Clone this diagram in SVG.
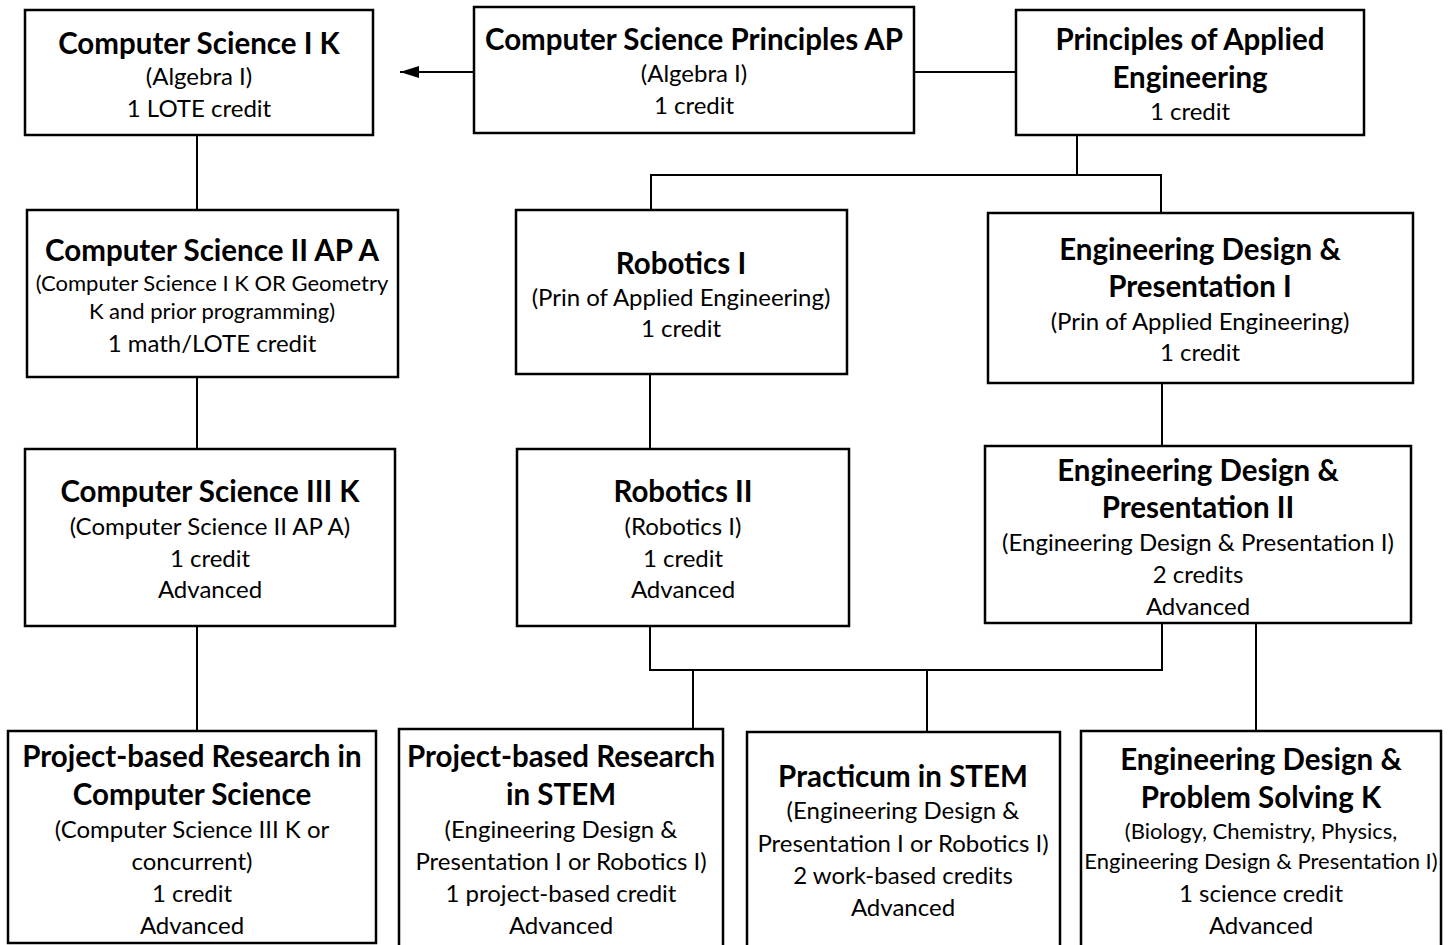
<svg xmlns="http://www.w3.org/2000/svg" width="1451" height="945" viewBox="0 0 1451 945">
<style>
.box{fill:#fff;stroke:#000;stroke-width:2.5}
.c{fill:none;stroke:#000;stroke-width:2}
text{font-family:Lato,"Open Sans","Liberation Sans",sans-serif;text-anchor:middle;fill:#000}
.t{font-size:29.5px;font-weight:bold}
.r{font-size:24px}
.s{font-size:22px}
</style>
<defs>
<marker id="ah" markerWidth="20" markerHeight="12" refX="19" refY="6" orient="auto" markerUnits="userSpaceOnUse">
<path d="M0,0 L19,6 L0,12 Z" fill="#000"/>
</marker>
</defs>
<rect width="1451" height="945" fill="#fff"/>
<g id="connectors">
<line class="c" x1="474" y1="72" x2="400" y2="72" marker-end="url(#ah)"/>
<line class="c" x1="914" y1="72" x2="1016" y2="72"/>
<line class="c" x1="197" y1="135" x2="197" y2="210"/>
<line class="c" x1="197" y1="377" x2="197" y2="449"/>
<line class="c" x1="197" y1="626" x2="197" y2="731"/>
<polyline class="c" points="1077,135 1077,175"/>
<polyline class="c" points="651,210 651,175 1161,175 1161,213"/>
<line class="c" x1="650" y1="374" x2="650" y2="449"/>
<line class="c" x1="1162" y1="383" x2="1162" y2="446"/>
<polyline class="c" points="650,626 650,670 1162,670 1162,623"/>
<line class="c" x1="693" y1="670" x2="693" y2="729"/>
<line class="c" x1="927" y1="670" x2="927" y2="732"/>
<line class="c" x1="1256" y1="623" x2="1256" y2="731"/>
</g>
<g id="cs1">
<rect class="box" x="25" y="10" width="348" height="125"/>
<text class="t" x="199" y="54">Computer Science I K</text>
<text class="r" x="199" y="85">(Algebra I)</text>
<text class="r" x="199" y="117">1 LOTE credit</text>
</g>
<g id="csp">
<rect class="box" x="474" y="7" width="440" height="126"/>
<text class="t" x="694" y="50">Computer Science Principles AP</text>
<text class="r" x="694" y="82">(Algebra I)</text>
<text class="r" x="694" y="114">1 credit</text>
</g>
<g id="pae">
<rect class="box" x="1016" y="10" width="348" height="125"/>
<text class="t" x="1190" y="50">Principles of Applied</text>
<text class="t" x="1190" y="88">Engineering</text>
<text class="r" x="1190" y="120">1 credit</text>
</g>
<g id="cs2">
<rect class="box" x="27" y="210" width="371" height="167"/>
<text class="t" x="212" y="261">Computer Science II AP A</text>
<text class="s" x="212" y="291">(Computer Science I K OR Geometry</text>
<text class="s" x="212" y="319">K and prior programming)</text>
<text class="r" x="212" y="352">1 math/LOTE credit</text>
</g>
<g id="rob1">
<rect class="box" x="516" y="210" width="331" height="164"/>
<text class="t" x="681" y="274">Robotics I</text>
<text class="r" x="681" y="306">(Prin of Applied Engineering)</text>
<text class="r" x="681" y="337">1 credit</text>
</g>
<g id="edp1">
<rect class="box" x="988" y="213" width="425" height="170"/>
<text class="t" x="1200" y="260">Engineering Design &amp;</text>
<text class="t" x="1200" y="297">Presentation I</text>
<text class="r" x="1200" y="330">(Prin of Applied Engineering)</text>
<text class="r" x="1200" y="361">1 credit</text>
</g>
<g id="cs3">
<rect class="box" x="25" y="449" width="370" height="177"/>
<text class="t" x="210" y="502">Computer Science III K</text>
<text class="r" x="210" y="535">(Computer Science II AP A)</text>
<text class="r" x="210" y="567">1 credit</text>
<text class="r" x="210" y="598">Advanced</text>
</g>
<g id="rob2">
<rect class="box" x="517" y="449" width="332" height="177"/>
<text class="t" x="683" y="502">Robotics II</text>
<text class="r" x="683" y="535">(Robotics I)</text>
<text class="r" x="683" y="567">1 credit</text>
<text class="r" x="683" y="598">Advanced</text>
</g>
<g id="edp2">
<rect class="box" x="985" y="446" width="426" height="177"/>
<text class="t" x="1198" y="481">Engineering Design &amp;</text>
<text class="t" x="1198" y="518">Presentation II</text>
<text class="r" x="1198" y="551">(Engineering Design &amp; Presentation I)</text>
<text class="r" x="1198" y="583">2 credits</text>
<text class="r" x="1198" y="615">Advanced</text>
</g>
<g id="pbrcs">
<rect class="box" x="8" y="731" width="368" height="212"/>
<text class="t" x="192" y="767">Project-based Research in</text>
<text class="t" x="192" y="805">Computer Science</text>
<text class="r" x="192" y="838">(Computer Science III K or</text>
<text class="r" x="192" y="870">concurrent)</text>
<text class="r" x="192" y="902">1 credit</text>
<text class="r" x="192" y="934">Advanced</text>
</g>
<g id="pbrstem">
<rect class="box" x="399" y="729" width="324" height="225"/>
<text class="t" x="561" y="767">Project-based Research</text>
<text class="t" x="561" y="805">in STEM</text>
<text class="r" x="561" y="838">(Engineering Design &amp;</text>
<text class="r" x="561" y="870">Presentation I or Robotics I)</text>
<text class="r" x="561" y="902">1 project-based credit</text>
<text class="r" x="561" y="934">Advanced</text>
</g>
<g id="practicum">
<rect class="box" x="747" y="732" width="313" height="225"/>
<text class="t" x="903" y="787">Practicum in STEM</text>
<text class="r" x="903" y="819">(Engineering Design &amp;</text>
<text class="r" x="903" y="852">Presentation I or Robotics I)</text>
<text class="r" x="903" y="884">2 work-based credits</text>
<text class="r" x="903" y="916">Advanced</text>
</g>
<g id="edps">
<rect class="box" x="1081" y="731" width="360" height="225"/>
<text class="t" x="1261" y="770">Engineering Design &amp;</text>
<text class="t" x="1261" y="808">Problem Solving K</text>
<text class="s" x="1261" y="839">(Biology, Chemistry, Physics,</text>
<text class="s" x="1261" y="869">Engineering Design &amp; Presentation I)</text>
<text class="r" x="1261" y="902">1 science credit</text>
<text class="r" x="1261" y="934">Advanced</text>
</g>
</svg>
